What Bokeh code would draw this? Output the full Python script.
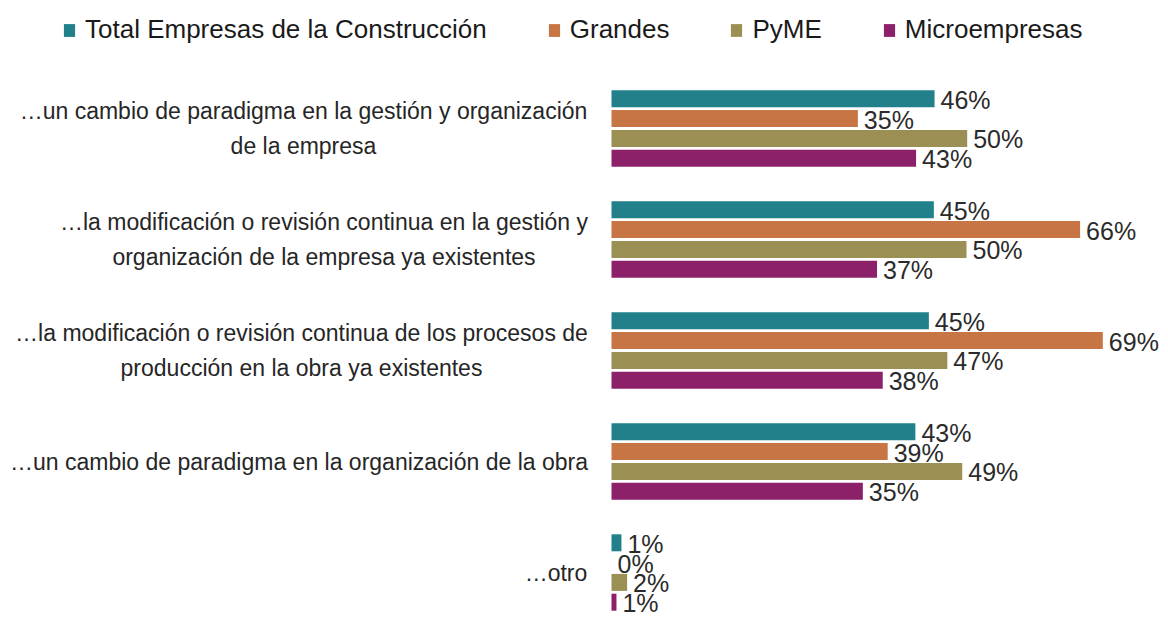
from bokeh.plotting import figure
from bokeh.models import ColumnDataSource, Range1d
from bokeh.transform import dodge
from bokeh.core.properties import value
from bokeh.embed import file_html
from bokeh.resources import INLINE

categories = [
    "\u2026un cambio de paradigma en la gestión y organización\nde la empresa",
    "\u2026la modificación o revisión continua en la gestión y\norganización de la empresa ya existentes",
    "\u2026la modificación o revisión continua de los procesos de\nproducción en la obra ya existentes",
    "\u2026un cambio de paradigma en la organización de la obra",
    "\u2026otro",
]
series_names = ["Total Empresas de la Construcción", "Grandes", "PyME", "Microempresas"]
total = [45.5, 45.4, 44.7, 42.8, 1.4]
grandes = [34.7, 66.0, 69.2, 38.9, 0.0]
pyme = [50.1, 50.0, 47.3, 49.4, 2.2]
micro = [42.9, 37.4, 38.2, 35.4, 0.7]
colors = ["#21808A", "#C87546", "#9C8F54", "#8C2069"]

# layout only: rendered pixel width of the widest line of each category label
label_line_px = [568, 527, 572, 577, 63]

series = [total, grandes, pyme, micro]
keys = ["total", "grandes", "pyme", "micro"]

data = {"idx": list(range(len(categories))), "cat": categories,
        "zero": [0] * len(categories),
        "lbl_off": [-24 - w / 2 for w in label_line_px]}
for k, s in zip(keys, series):
    data[k] = s
    data[k + "_lbl"] = [f"{round(v):d}%" for v in s]
src = ColumnDataSource(data)

FONT = "Liberation Sans"
W, H = 1160, 617
px_per_unit = 7.1
zero_px = 611
group_px = 111.0
first_center = 128.0

p = figure(width=W, height=H, output_backend="svg", toolbar_location=None,
           x_range=Range1d(-zero_px / px_per_unit, (W - zero_px) / px_per_unit),
           y_range=Range1d((H - first_center) / group_px, -first_center / group_px),
           min_border=0, min_border_left=0, min_border_right=0,
           min_border_top=0, min_border_bottom=0)
p.axis.visible = False
p.grid.visible = False
p.outline_line_color = None
p.background_fill_color = "white"
p.border_fill_color = "white"

pitch = 19.8 / group_px
bar_h = 17.0 / group_px
for i, (k, name, c) in enumerate(zip(keys, series_names, colors)):
    off = (i - 1.5) * pitch
    yd = dodge("idx", off, range=p.y_range)
    p.hbar(y=yd, left=0, right=k, height=bar_h, source=src,
           fill_color=c, line_color=None, legend_label=name)
    p.text(x=k, y=yd, text=k + "_lbl", source=src,
           text_font=value(FONT), text_font_size="25px", text_color="#2B2B2B",
           text_baseline="middle", text_align="left", x_offset=6, y_offset=1)

p.text(x="zero", y="idx", text="cat", source=src,
       text_font=value(FONT), text_font_size="23px", text_color="#262626",
       text_baseline="middle", text_align="center", x_offset="lbl_off",
       text_line_height=1.35)

lg = p.legend[0]
lg.orientation = "horizontal"
lg.location = (62, 572)
lg.padding = 0
lg.margin = 0
lg.spacing = 60
lg.border_line_color = None
lg.background_fill_alpha = 0
lg.glyph_width = 14
lg.glyph_height = 16
lg.label_standoff = 9
lg.label_text_font = FONT
lg.label_text_font_size = "26px"
lg.label_text_color = "#1A1A1A"

open("out.html", "w").write(file_html(p, INLINE))
